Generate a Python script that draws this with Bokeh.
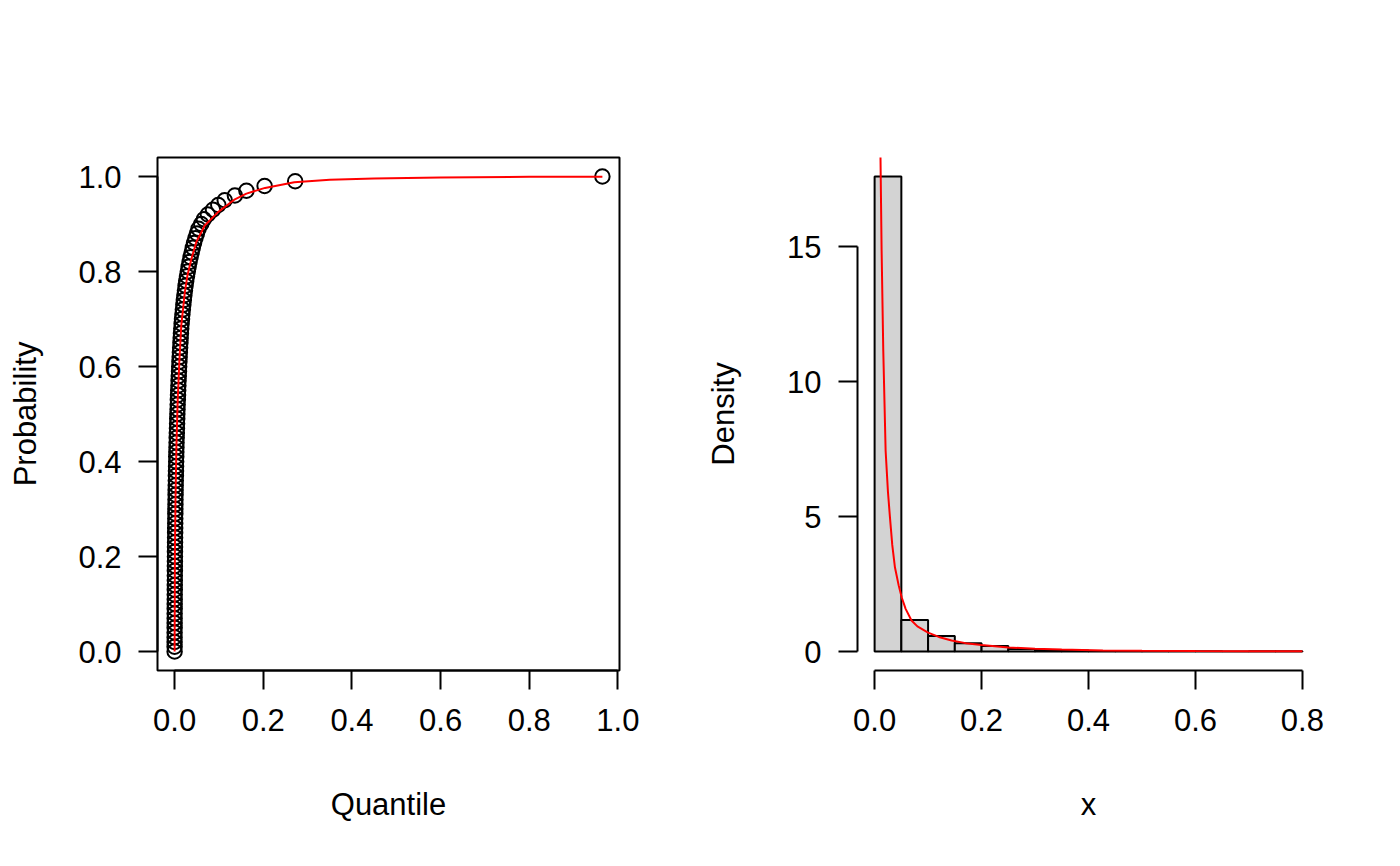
from bokeh.plotting import figure
from bokeh.layouts import row
from bokeh.models import FixedTicker, Range1d, PrintfTickFormatter
from bokeh.embed import file_html
from bokeh.resources import INLINE

# ---------------- data ----------------
prob = [0.00, 0.01, 0.02, 0.03, 0.04, 0.05, 0.06, 0.07, 0.08, 0.09,
        0.10, 0.11, 0.12, 0.13, 0.14, 0.15, 0.16, 0.17, 0.18, 0.19,
        0.20, 0.21, 0.22, 0.23, 0.24, 0.25, 0.26, 0.27, 0.28, 0.29,
        0.30, 0.31, 0.32, 0.33, 0.34, 0.35, 0.36, 0.37, 0.38, 0.39,
        0.40, 0.41, 0.42, 0.43, 0.44, 0.45, 0.46, 0.47, 0.48, 0.49,
        0.50, 0.51, 0.52, 0.53, 0.54, 0.55, 0.56, 0.57, 0.58, 0.59,
        0.60, 0.61, 0.62, 0.63, 0.64, 0.65, 0.66, 0.67, 0.68, 0.69,
        0.70, 0.71, 0.72, 0.73, 0.74, 0.75, 0.76, 0.77, 0.78, 0.79,
        0.80, 0.81, 0.82, 0.83, 0.84, 0.85, 0.86, 0.87, 0.88, 0.89,
        0.90, 0.91, 0.92, 0.93, 0.94, 0.95, 0.96, 0.97, 0.98, 0.99,
        1.00]

quantile = [0.0000, 0.0000, 0.0000, 0.0000, 0.0000, 0.0001, 0.0001, 0.0001, 0.0001, 0.0002,
            0.0002, 0.0003, 0.0003, 0.0004, 0.0004, 0.0005, 0.0005, 0.0006, 0.0006, 0.0007,
            0.0008, 0.0008, 0.0009, 0.0010, 0.0011, 0.0012, 0.0013, 0.0014, 0.0015, 0.0016,
            0.0017, 0.0019, 0.0020, 0.0022, 0.0023, 0.0025, 0.0027, 0.0029, 0.0031, 0.0033,
            0.0035, 0.0037, 0.0039, 0.0042, 0.0044, 0.0047, 0.0050, 0.0053, 0.0056, 0.0059,
            0.0062, 0.0066, 0.0069, 0.0073, 0.0077, 0.0081, 0.0085, 0.0089, 0.0094, 0.0099,
            0.0103, 0.0108, 0.0114, 0.0119, 0.0125, 0.0131, 0.0137, 0.0143, 0.0150, 0.0158,
            0.0167, 0.0176, 0.0186, 0.0197, 0.0208, 0.0220, 0.0233, 0.0247, 0.0262, 0.0279,
            0.0297, 0.0316, 0.0337, 0.0360, 0.0384, 0.0410, 0.0438, 0.0469, 0.0503, 0.0540,
            0.0600, 0.0660, 0.0750, 0.0865, 0.0985, 0.1130, 0.1360, 0.1620, 0.2030, 0.2720,
            0.9650]

cdf_x = [0.0, 0.0007, 0.002, 0.004, 0.007, 0.0106, 0.013, 0.015, 0.019, 0.023,
         0.029, 0.038, 0.049, 0.068, 0.098, 0.136, 0.162, 0.204, 0.27, 0.35,
         0.45, 0.6, 0.8, 0.965]
cdf_p = [0.0, 0.21, 0.32, 0.43, 0.53, 0.609, 0.651, 0.686, 0.721, 0.756,
         0.792, 0.827, 0.862, 0.897, 0.925, 0.952, 0.964, 0.976, 0.988, 0.993,
         0.996, 0.998, 0.9993, 0.9997]

breaks = [0.00, 0.05, 0.10, 0.15, 0.20, 0.25, 0.30, 0.35, 0.40, 0.45,
          0.50, 0.55, 0.60, 0.65, 0.70, 0.75, 0.80]
density = [17.6, 1.17, 0.57, 0.31, 0.20, 0.09, 0.06, 0.04, 0.02,
           0.01, 0.01, 0.005, 0.005, 0.0, 0.005, 0.005]

dens_x = [0.0100, 0.0110, 0.0131, 0.0162, 0.0206, 0.0250, 0.0287, 0.0330, 0.038, 0.045,
          0.0506, 0.058, 0.069, 0.080, 0.100, 0.120, 0.144, 0.170, 0.200, 0.250,
          0.300, 0.350, 0.427, 0.500, 0.600, 0.700, 0.800]
dens_y = [21.0, 18.3, 14.85, 11.15, 7.44, 5.90, 4.97, 3.95, 3.12, 2.45,
          2.01, 1.58, 1.15, 0.93, 0.70, 0.54, 0.41, 0.31, 0.24, 0.15,
          0.10, 0.07, 0.04, 0.025, 0.015, 0.010, 0.006]

left_xticks = [0.0, 0.2, 0.4, 0.6, 0.8, 1.0]
left_yticks = [0.0, 0.2, 0.4, 0.6, 0.8, 1.0]
right_xticks = [0.0, 0.2, 0.4, 0.6, 0.8]
right_yticks = [0, 5, 10, 15]

FONT = "Liberation Sans"
FSIZE = "31px"


def style_axes(p, ylab_standoff):
    p.xgrid.visible = False
    p.ygrid.visible = False
    for ax in (p.xaxis[0], p.yaxis[0]):
        ax.axis_line_width = 2
        ax.axis_line_color = "black"
        ax.major_tick_line_width = 2
        ax.major_tick_line_color = "black"
        ax.major_tick_out = 19
        ax.major_tick_in = 0
        ax.minor_tick_line_color = None
        ax.major_label_text_font = FONT
        ax.major_label_text_font_size = FSIZE
        ax.major_label_text_color = "black"
        ax.axis_label_text_font = FONT
        ax.axis_label_text_font_size = FSIZE
        ax.axis_label_text_font_style = "normal"
        ax.axis_label_text_color = "black"
    p.xaxis[0].major_label_standoff = 19
    p.xaxis[0].axis_label_standoff = 53
    p.yaxis[0].major_label_standoff = 17
    p.yaxis[0].axis_label_standoff = ylab_standoff
    p.background_fill_color = "white"
    p.border_fill_color = "white"


# ---------------- left panel ----------------
p1 = figure(width=700, height=858, output_backend="svg", toolbar_location=None,
            x_range=Range1d(-0.0386, 1.0036), y_range=Range1d(-0.04, 1.04),
            min_border_left=157, min_border_right=81, min_border_top=157,
            min_border_bottom=188)
style_axes(p1, 32)
p1.outline_line_color = "black"
p1.outline_line_width = 2
p1.outline_line_alpha = 1.0
p1.xaxis[0].ticker = FixedTicker(ticks=left_xticks)
p1.yaxis[0].ticker = FixedTicker(ticks=left_yticks)
p1.xaxis[0].formatter = PrintfTickFormatter(format="%.1f")
p1.yaxis[0].formatter = PrintfTickFormatter(format="%.1f")
p1.xaxis[0].bounds = (0, 1)
p1.yaxis[0].bounds = (0, 1)
p1.xaxis[0].axis_label = "Quantile"
p1.yaxis[0].axis_label = "Probability"

p1.scatter(quantile, prob, marker="circle", size=14.5, fill_color=None,
           line_color="black", line_width=2)
p1.line(cdf_x, cdf_p, line_color="red", line_width=2)

# ---------------- right panel ----------------
p2 = figure(width=692, height=858, output_backend="svg", toolbar_location=None,
            x_range=Range1d(-0.032, 0.832), y_range=Range1d(-0.704, 18.304),
            min_border_left=157, min_border_right=73, min_border_top=157,
            min_border_bottom=188)
style_axes(p2, 43)
p2.outline_line_color = None
p2.xaxis[0].ticker = FixedTicker(ticks=right_xticks)
p2.yaxis[0].ticker = FixedTicker(ticks=right_yticks)
p2.xaxis[0].formatter = PrintfTickFormatter(format="%.1f")
p2.yaxis[0].formatter = PrintfTickFormatter(format="%d")
p2.xaxis[0].bounds = (0, 0.8)
p2.yaxis[0].bounds = (0, 15)
p2.xaxis[0].axis_label = "x"
p2.yaxis[0].axis_label = "Density"

p2.quad(left=breaks[:-1], right=breaks[1:], bottom=0, top=density,
        fill_color="#D3D3D3", line_color="black", line_width=2)
p2.line(dens_x, dens_y, line_color="red", line_width=2)

layout = row(p1, p2)
open("out.html", "w").write(file_html(layout, INLINE))
